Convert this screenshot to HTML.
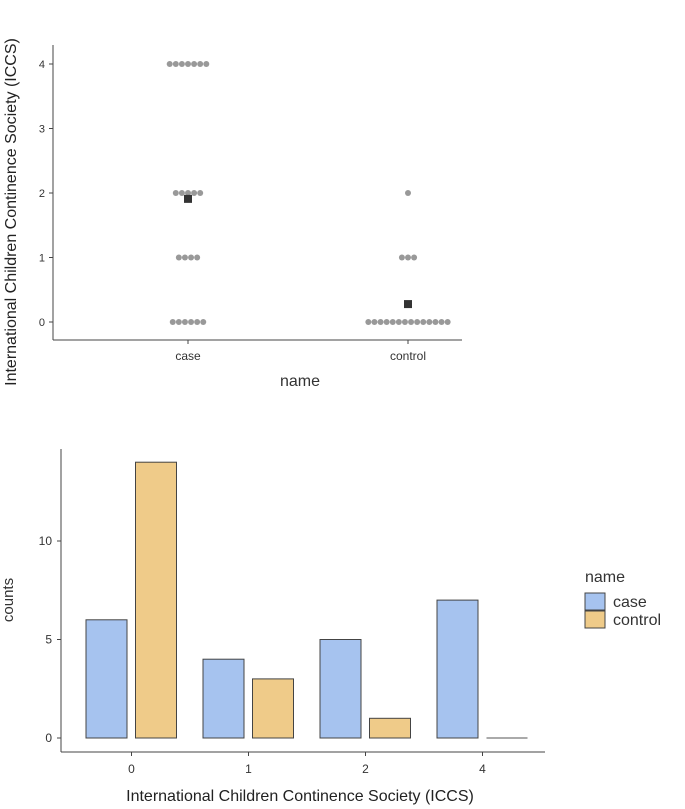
<!DOCTYPE html>
<html><head><meta charset="utf-8"><style>
body{margin:0;background:#fff}
svg{display:block;font-family:"Liberation Sans",sans-serif}
</style></head><body>
<svg width="685" height="809" viewBox="0 0 685 809">
<g id="topg"></g>
<g id="botg"></g>
</svg>
<script>
const ns="http://www.w3.org/2000/svg";
// dot plot data
const dotGroups=["case","control"];
const dotLevels=[0,1,2,4];
const caseCounts=[6,4,5,7];
const controlCounts=[14,3,1,0];
const dotTicks=[0,1,2,3,4];
// bar chart data
const barCategories=["0","1","2","4"];
const barCase=[6,4,5,7];
const barControl=[14,3,1,0];
const barTicks=[0,5,10];

function mk(tag,attrs,parent,text){const e=document.createElementNS(ns,tag);for(const k in attrs)e.setAttribute(k,attrs[k]);if(text!==undefined)e.textContent=text;parent.appendChild(e);return e;}

// ---------- top ----------
const topG=document.getElementById('topg');
const ty=v=>322-v*64.5;
const tx=i=>188+i*220;
let e;
e=mk('line',{x1:53,y1:45,x2:53,y2:340,stroke:'#444','stroke-width':1},topG);


e=mk('line',{x1:53,y1:340,x2:462,y2:340,stroke:'#444','stroke-width':1},topG);


dotTicks.forEach(t=>{
  mk('line',{x1:49,y1:ty(t),x2:53,y2:ty(t),stroke:'#444'},topG);
  e=mk('text',{x:45,y:ty(t)+4,'text-anchor':'end','font-size':11,fill:'#333'},topG,String(t));
  
  
});
dotGroups.forEach((g,i)=>{
  mk('line',{x1:tx(i),y1:340,x2:tx(i),y2:344,stroke:'#444'},topG);
  e=mk('text',{x:tx(i),y:360,'text-anchor':'middle','font-size':12,fill:'#333'},topG,g);
  
  
  const counts=i===0?caseCounts:controlCounts;
  let sum=0,n=0;
  dotLevels.forEach((lv,j)=>{
    const c=counts[j];sum+=lv*c;n+=c;
    for(let k=0;k<c;k++){
      const cx=tx(i)+(k-(c-1)/2)*6.1;
      e=mk('circle',{cx:cx,cy:ty(lv),r:3,fill:'#999'},topG);
      
      
    }
  });
  const m=sum/n;
  e=mk('rect',{x:tx(i)-4,y:ty(m)-4,width:8,height:8,fill:'#333'},topG);
  
  
});
e=mk('text',{x:300,y:386,'text-anchor':'middle','font-size':16,fill:'#333'},topG,'name');


e=mk('text',{x:0,y:0,'text-anchor':'middle','font-size':16,fill:'#222',transform:'translate(16,212) rotate(-90)'},topG,'International Children Continence Society (ICCS)');



// ---------- bottom ----------
const botG=document.getElementById('botg');
const by=v=>738-v*19.7;
const bx=i=>131.5+i*117;
e=mk('line',{x1:61,y1:449,x2:61,y2:752,stroke:'#444'},botG);


e=mk('line',{x1:61,y1:752,x2:545,y2:752,stroke:'#444'},botG);


barTicks.forEach(t=>{
  mk('line',{x1:57,y1:by(t),x2:61,y2:by(t),stroke:'#444'},botG);
  e=mk('text',{x:52,y:by(t)+4,'text-anchor':'end','font-size':12,fill:'#333'},botG,String(t));
  
  
});
function bar(x,v,fill){
  if(v>0){
    e=mk('rect',{x:x,y:by(v),width:41,height:by(0)-by(v),fill:fill,stroke:'#444'},botG);
  } else {
    e=mk('line',{x1:x,y1:by(0),x2:x+41,y2:by(0),stroke:'#555'},botG);
  }
  return e;
}
barCategories.forEach((c,i)=>{
  mk('line',{x1:bx(i),y1:752,x2:bx(i),y2:756,stroke:'#444'},botG);
  e=mk('text',{x:bx(i),y:773,'text-anchor':'middle','font-size':12,fill:'#333'},botG,c);
  
  
  e=bar(bx(i)-45.5,barCase[i],'#a6c3ef');
  
  
  e=bar(bx(i)+4,barControl[i],'#efcb89');
  
  
});
e=mk('text',{x:300,y:801,'text-anchor':'middle','font-size':16,fill:'#222'},botG,'International Children Continence Society (ICCS)');


e=mk('text',{x:0,y:0,'text-anchor':'middle','font-size':15,fill:'#333',transform:'translate(13,600) rotate(-90)'},botG,'counts');


// legend
e=mk('text',{x:585,y:582,'font-size':16,fill:'#333'},botG,'name');


e=mk('rect',{x:585,y:593,width:20,height:17,fill:'#a6c3ef',stroke:'#444'},botG);


e=mk('rect',{x:585,y:611,width:20,height:17,fill:'#efcb89',stroke:'#444'},botG);


e=mk('text',{x:613,y:607,'font-size':16,fill:'#333'},botG,'case');


e=mk('text',{x:613,y:625,'font-size':16,fill:'#333'},botG,'control');


</script>
</body></html>
